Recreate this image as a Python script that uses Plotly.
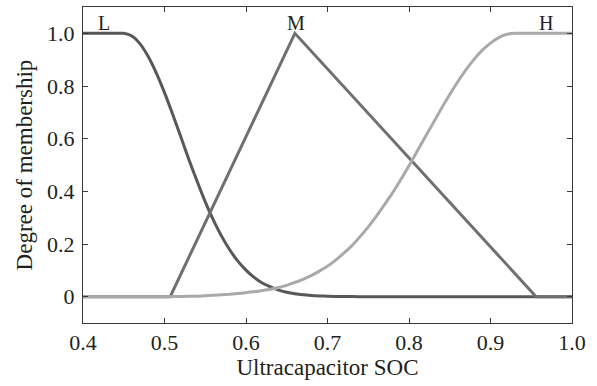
import plotly.graph_objects as go

# Data
l_x = [0.40, 0.42, 0.44, 0.45, 0.46, 0.47, 0.48, 0.49, 0.50, 0.51, 0.52, 0.53, 0.54, 0.55, 0.56, 0.57,
       0.58, 0.59, 0.60, 0.61, 0.62, 0.63, 0.64, 0.65, 0.66, 0.67, 0.68, 0.69, 0.70, 0.72, 0.74, 0.80, 1.0]
l_y = [1.0, 1.0, 1.0, 1.0, 0.990, 0.960, 0.912, 0.849, 0.775, 0.693, 0.607, 0.520, 0.438, 0.360, 0.291, 0.230,
       0.178, 0.135, 0.101, 0.073, 0.052, 0.037, 0.025, 0.017, 0.011, 0.007, 0.0045, 0.0028, 0.0017, 0.0006, 0.0, 0.0, 0.0]

m_x = [0.40, 0.507, 0.66, 0.956, 1.0]
m_y = [0.0, 0.0, 1.0, 0.0, 0.0]

h_x = [0.40, 0.45, 0.50, 0.52, 0.54, 0.56, 0.58, 0.60, 0.61, 0.62, 0.63, 0.64, 0.65, 0.66, 0.67, 0.68, 0.69,
       0.70, 0.71, 0.72, 0.73, 0.74, 0.75, 0.76, 0.77, 0.78, 0.79, 0.80, 0.81, 0.82, 0.83, 0.84, 0.85,
       0.86, 0.87, 0.88, 0.89, 0.90, 0.91, 0.92, 0.93, 0.94, 0.96, 1.0]
h_y = [0.0, 0.0, 0.0, 0.001, 0.002, 0.005, 0.009, 0.015, 0.019, 0.023, 0.028, 0.035, 0.043, 0.054, 0.066, 0.080, 0.097,
       0.116, 0.139, 0.165, 0.194, 0.228, 0.265, 0.306, 0.350, 0.395, 0.445, 0.497, 0.552, 0.607, 0.661, 0.716, 0.768,
       0.817, 0.862, 0.902, 0.936, 0.963, 0.984, 0.996, 1.0, 1.0, 1.0, 1.0]

set_labels = ["L", "M", "H"]
label_x = [0.426, 0.661, 0.968]
label_y = [1.04, 1.04, 1.04]

x_ticks = [0.4, 0.5, 0.6, 0.7, 0.8, 0.9, 1.0]
x_ticktext = ["0.4", "0.5", "0.6", "0.7", "0.8", "0.9", "1.0"]
y_ticks = [0, 0.2, 0.4, 0.6, 0.8, 1.0]
y_ticktext = ["0", "0.2", "0.4", "0.6", "0.8", "1.0"]

FONT = "Liberation Serif, Times New Roman, serif"

fig = go.Figure()
fig.add_trace(go.Scatter(x=l_x, y=l_y, mode="lines", name="L",
                         line=dict(color="#58585a", width=3, shape="spline", smoothing=0.5)))
fig.add_trace(go.Scatter(x=m_x, y=m_y, mode="lines", name="M",
                         line=dict(color="#707072", width=3)))
fig.add_trace(go.Scatter(x=h_x, y=h_y, mode="lines", name="H",
                         line=dict(color="#a7a9ac", width=3, shape="spline", smoothing=0.5)))

for t, x, y in zip(set_labels, label_x, label_y):
    fig.add_annotation(x=x, y=y, text=t, showarrow=False, xref="x", yref="y",
                       font=dict(family=FONT, size=20, color="#231f20"))

axis_common = dict(showline=True, linecolor="#3a3a3a", linewidth=1, mirror="ticks",
                   ticks="inside", ticklen=5, tickcolor="#3a3a3a", tickwidth=1,
                   showgrid=False, zeroline=False, automargin=False,
                   tickfont=dict(family=FONT, size=22, color="#231f20"))

fig.update_xaxes(range=[0.4, 1.0], tickvals=x_ticks, ticktext=x_ticktext,
                 title=dict(text="Ultracapacitor SOC", font=dict(family=FONT, size=23, color="#231f20"),
                            standoff=3),
                 **axis_common)
fig.update_yaxes(range=[-0.1, 1.1], tickvals=y_ticks, ticktext=y_ticktext,
                 title=dict(text="Degree of membership", font=dict(family=FONT, size=23, color="#231f20"),
                            standoff=8),
                 ticklabelstandoff=3,
                 **axis_common)

fig.update_layout(width=597, height=386, showlegend=False,
                  margin=dict(l=83, r=25, t=7, b=63),
                  plot_bgcolor="white", paper_bgcolor="white")

fig.write_html("out.html", config={"displayModeBar": False},
               post_script="document.body.style.margin='0';document.body.style.overflow='hidden';")
